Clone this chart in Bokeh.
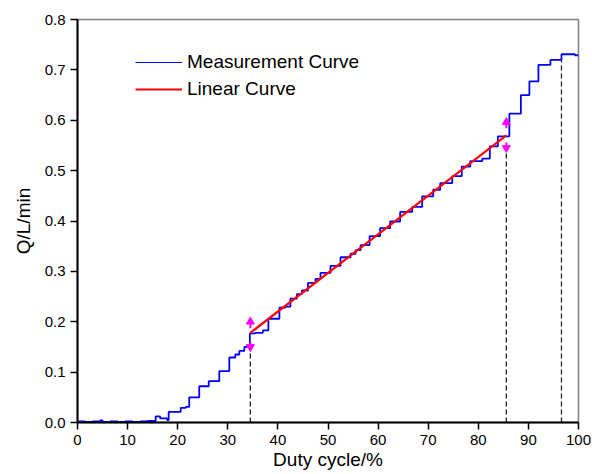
from bokeh.plotting import figure
from bokeh.models import Range1d, Legend, LegendItem, ColumnDataSource, CustomJSTickFormatter
from bokeh.embed import file_html
from bokeh.resources import INLINE

x_meas = [0, 1.5, 3, 4.5, 5, 6.5, 8, 9.5, 11, 12.5, 14, 15.6, 16.5, 17.9, 18.2,
          20.6, 21.6, 22.3, 24.3, 26.2, 28.3, 30.3, 31.5, 32.3, 33.3, 34.4,
          35.5, 37, 38.1, 40.3, 41.5, 42.5, 43.8, 44.8, 46, 47.5, 48.5, 50.5,
          52.5, 54.5, 55.5, 56.5, 58.3, 60.4, 62.4, 64.4, 66.8, 68.8, 71.0,
          72.4, 74.8, 76.7, 78.4, 80.8, 82.3, 83.9, 86.2, 88.5, 90.2, 92.0,
          94.4, 96.6, 99.3, 100]
y_meas = [0.002, 0.001, 0.002, 0.004, 0.001, 0.002, 0.001, 0.002, 0.001, 0.002,
          0.003, 0.012, 0.008, 0.005, 0.021, 0.029, 0.031, 0.050, 0.072, 0.082,
          0.102, 0.129, 0.135, 0.142, 0.150, 0.177, 0.178, 0.183, 0.206, 0.228,
          0.230, 0.246, 0.255, 0.262, 0.277, 0.285, 0.297, 0.311, 0.328, 0.335,
          0.342, 0.352, 0.370, 0.386, 0.399, 0.418, 0.428, 0.449, 0.462, 0.475,
          0.489, 0.508, 0.519, 0.524, 0.548, 0.568, 0.613, 0.650, 0.677, 0.710,
          0.720, 0.731, 0.729, 0.729]

# Linear fit
x_lin = [34.5, 85.6]
y_lin = [0.178, 0.570]

# Dashed markers
x_dash = [34.5, 85.6, 96.6]
y_dash_top = [0.150, 0.535, 0.719]

# Arrow markers (x, stem start, stem end)
arrow_x = [34.5, 85.6]
up_from = [0.187, 0.584]
up_to = [0.200, 0.596]
down_from = [0.159, 0.556]
down_to = [0.150, 0.545]

x_ticks = [0, 10, 20, 30, 40, 50, 60, 70, 80, 90, 100]
y_ticks = [0.0, 0.1, 0.2, 0.3, 0.4, 0.5, 0.6, 0.7, 0.8]

FONT = "Liberation Sans"

p = figure(width=592, height=474, output_backend="svg", toolbar_location=None,
           x_range=Range1d(0, 100), y_range=Range1d(0, 0.8),
           min_border_left=77, min_border_right=14, min_border_top=19,
           min_border_bottom=52)
p.grid.visible = False
p.outline_line_color = "#808080"
p.outline_line_width = 1.5
p.background_fill_color = "white"
p.border_fill_color = "white"

for ax in (p.xaxis[0], p.yaxis[0]):
    ax.axis_line_color = "black"
    ax.axis_line_width = 2
    ax.major_tick_line_color = "black"
    ax.major_tick_line_width = 1.5
    ax.minor_tick_line_color = "black"
    ax.minor_tick_line_width = 1.5
    ax.major_tick_out = 7
    ax.major_tick_in = 0
    ax.minor_tick_out = 4
    ax.minor_tick_in = 0
    ax.major_label_text_font = FONT
    ax.major_label_text_font_size = "15px"
    ax.major_label_text_color = "black"
    ax.axis_label_text_font = FONT
    ax.axis_label_text_font_size = "19px"
    ax.axis_label_text_font_style = "normal"
    ax.axis_label_text_color = "black"

p.xaxis.ticker = x_ticks
p.xaxis.ticker.num_minor_ticks = 2
p.yaxis.ticker = y_ticks
p.yaxis.ticker.num_minor_ticks = 2
p.xaxis.axis_label = "Duty cycle/%"
p.yaxis.axis_label = "Q/L/min"
p.xaxis.major_label_standoff = 5
p.xaxis.axis_label_standoff = 1
p.yaxis.major_label_standoff = 5
p.yaxis.axis_label_standoff = 8
p.yaxis.formatter = CustomJSTickFormatter(code="return tick.toFixed(1);")

# dashed vertical lines
p.segment(x0=x_dash, y0=[0] * len(x_dash), x1=x_dash, y1=y_dash_top,
          line_color="#222222", line_width=1.3, line_dash="5 3")

# measurement curve
p.step(x_meas, y_meas, mode="after", line_color="#0000FF", line_width=1.8)

# linear curve
p.line(x_lin, y_lin, line_color="#FF0000", line_width=2.2)

# magenta arrows
p.segment(x0=arrow_x, y0=up_from, x1=arrow_x, y1=up_to,
          line_color="#FF00FF", line_width=2)
p.segment(x0=arrow_x, y0=down_from, x1=arrow_x, y1=down_to,
          line_color="#FF00FF", line_width=2)
p.scatter(arrow_x, up_to, marker="triangle", size=8,
          fill_color="#FF00FF", line_color="#FF00FF")
p.scatter(arrow_x, down_to, marker="inverted_triangle", size=8,
          fill_color="#FF00FF", line_color="#FF00FF")

# legend-only renderers (data kept outside the visible ranges)
legend_src = ColumnDataSource(data=dict(x=[-20, -19], y=[-1, -1]))
r_m = p.line("x", "y", source=legend_src, line_color="#0000FF", line_width=1.2)
r_l = p.line("x", "y", source=legend_src, line_color="#FF0000", line_width=2)
legend = Legend(items=[LegendItem(label="Measurement Curve", renderers=[r_m]),
                       LegendItem(label="Linear Curve", renderers=[r_l])],
                location=(58, 322))
legend.border_line_alpha = 0
legend.background_fill_alpha = 0
legend.padding = 0
legend.margin = 0
legend.spacing = 5
legend.glyph_width = 47
legend.glyph_height = 22
legend.label_height = 22
legend.label_standoff = 5
legend.label_text_font = FONT
legend.label_text_font_size = "19px"
legend.label_text_color = "black"
p.add_layout(legend, "center")

open("out.html", "w").write(file_html(p, INLINE))
